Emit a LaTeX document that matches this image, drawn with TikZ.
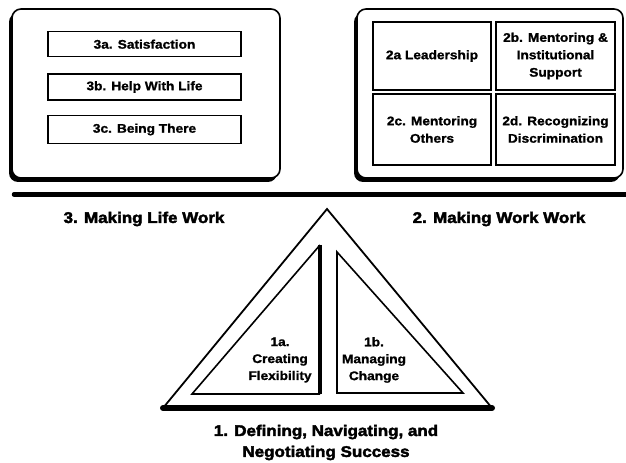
\documentclass[tikz,border=0pt]{standalone}
\usepackage{fontspec}
\setmainfont{Liberation Sans}[FakeStretch=1.1, BoldFeatures={FakeBold=1.2}]
\newfontfamily\heavy{Liberation Sans}[FakeStretch=1.1, BoldFeatures={FakeBold=2.6}]
\begin{document}
\begin{tikzpicture}[x=1bp,y=-1bp,
  frame/.style={draw=black,fill=white,line width=1.6bp,rounded corners=9bp},
  shadow/.style={fill=black,rounded corners=9bp},
  ibox/.style={draw=black,line width=1.4bp,inner sep=0pt,align=center,
    font=\fontsize{12.5}{17.5}\selectfont\bfseries},
  title/.style={inner sep=0pt,align=center,font=\heavy\fontsize{15.5}{21}\selectfont\bfseries},
  tlabel/.style={inner sep=0pt,align=center,font=\fontsize{12.5}{17}\selectfont\bfseries},
  tri/.style={draw=black,line width=1.8bp,line join=miter}]
\useasboundingbox (0,0) rectangle (626,463);
\fill[white] (0,0) rectangle (626,463);
% left panel
\fill[shadow] (9,13) rectangle (277,182);
\draw[frame] (12,9) rectangle (280,178);
\node[ibox,minimum width=193bp,minimum height=25bp] (b3a) at (144.5,44.2) {3a. Satisfaction};
\node[ibox,minimum width=193bp,minimum height=26bp] (b3b) at (144.5,87) {3b. Help With Life};
\node[ibox,minimum width=193bp,minimum height=28bp] (b3c) at (144.5,129.5) {3c. Being There};
% right panel
\fill[shadow] (354,13) rectangle (620,182);
\draw[frame] (357,9) rectangle (623,178);
\node[ibox,minimum width=118bp,minimum height=68bp] (b2a) at (432,56) {2a Leadership};
\node[ibox,minimum width=119bp,minimum height=68bp] (b2b) at (555.5,56) {2b. Mentoring \&\\Institutional\\Support};
\node[ibox,minimum width=118bp,minimum height=71bp] (b2c) at (432,129.5) {2c. Mentoring\\Others};
\node[ibox,minimum width=119bp,minimum height=71bp] (b2d) at (555.5,129.5) {2d. Recognizing\\Discrimination};
% separator
\coordinate (sepL) at (14,194.5);
\coordinate (sepR) at (626,194.5);
\draw[line width=4.5bp,line cap=round] (sepL) -- (sepR);
% titles
\node[title] (t3) at (144,219) {3. Making Life Work};
\node[title] (t2) at (499,219) {2. Making Work Work};
% triangle
\coordinate (apex) at (327,209);
\coordinate (bl) at (163,408);
\coordinate (br) at (492,408);
\draw[tri] (bl) -- (apex) -- (br);
\draw[line width=6bp,line cap=round] (bl) -- (br);
\coordinate (la) at (192,394);
\coordinate (lt) at (320,245);
\coordinate (lb) at (320,394);
\draw[tri,line width=1.6bp] (lt) -- (la) -- (lb);
\draw[line width=3.2bp] (lt) -- (lb);
\coordinate (rt) at (337,252);
\coordinate (rb) at (337,393);
\coordinate (rr) at (463,393);
\draw[tri,line width=1.6bp] (rt) -- (rb) -- (rr) -- cycle;
\node[tlabel] (t1a) at (280,360) {1a.\\Creating\\Flexibility};
\node[tlabel] (t1b) at (374,360) {1b.\\Managing\\Change};
\node[title] (t1) at (326,442.5) {1. Defining, Navigating, and\\Negotiating Success};
\end{tikzpicture}
\end{document}
